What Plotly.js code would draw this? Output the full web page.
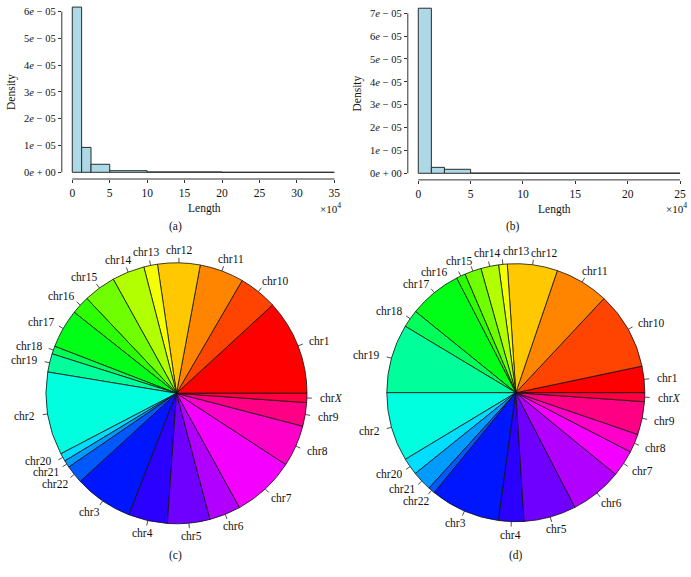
<!DOCTYPE html>
<html><head><meta charset="utf-8">
<script src="https://cdn.plot.ly/plotly-3.0.1.min.js"></script>
<style>html,body{margin:0;padding:0;background:#fff}#chart{width:691px;height:577px}</style>
</head><body><div id="chart"></div>
<script>
// ---------- DATA ----------
// Histogram (a): bin edges in units of 10^4, densities
const histA_edges = [0, 1.25, 2.5, 5, 10, 20, 35];
const histA_density = [6.17e-5, 0.93e-5, 0.30e-5, 0.06e-5, 0.015e-5, 0.001e-5];
// Histogram (b)
const histB_edges = [0, 1.25, 2.5, 5, 10, 25];
const histB_density = [7.22e-5, 0.26e-5, 0.175e-5, 0.01e-5, 0.008e-5];

const histA_xticks = [0, 5, 10, 15, 20, 25, 30, 35];
const histB_xticks = [0, 5, 10, 15, 20, 25];
const histA_yticks = [0, 1e-5, 2e-5, 3e-5, 4e-5, 5e-5, 6e-5];
const histA_yticktext = ['0<i>e</i> + 00','1<i>e</i> − 05','2<i>e</i> − 05','3<i>e</i> − 05','4<i>e</i> − 05','5<i>e</i> − 05','6<i>e</i> − 05'];
const histB_yticks = [0, 1e-5, 2e-5, 3e-5, 4e-5, 5e-5, 6e-5, 7e-5];
const histB_yticktext = ['0<i>e</i> + 00','1<i>e</i> − 05','2<i>e</i> − 05','3<i>e</i> − 05','4<i>e</i> − 05','5<i>e</i> − 05','6<i>e</i> − 05','7<i>e</i> − 05'];

// Pie charts: chromosome shares (degrees of the circle)
const chromosomes = ['chr1','chr10','chr11','chr12','chr13','chr14','chr15','chr16','chr17','chr18','chr19','chr2','chr20','chr21','chr22','chr3','chr4','chr5','chr6','chr7','chr8','chr9','chrX'];
const chromLabels = ['chr1','chr10','chr11','chr12','chr13','chr14','chr15','chr16','chr17','chr18','chr19','chr2','chr20','chr21','chr22','chr3','chr4','chr5','chr6','chr7','chr8','chr9','chr<i>X</i>'];
const pieC_values = [42.6,17.2,19.7,18.9,6.1,14.5,14.4,8.2,17.3,3.5,8.2,37.0,3.6,3.2,8.1,26.1,17.4,18.9,14.0,28.0,18.5,10.5,4.1];
const pieD_values = [11.9,35.0,24.3,22.6,3.9,8.0,7.5,4.1,23.7,8.0,31.0,31.1,7.7,8.9,3.1,31.5,11.4,23.6,23.4,12.0,8.4,14.9,4.0];

// ---------- LAYOUT HELPERS ----------
const W = 691, H = 577;
const FONT = 'Liberation Serif';
const TXT = '#111';
const px = p => p / W;
const py = p => 1 - p / H;

function hsvHex(h) { // s=v=1
  const i = Math.floor(h * 6), f = h * 6 - i, q = 1 - f, t = f;
  let r, g, b;
  switch (i % 6) {
    case 0: r=1; g=t; b=0; break;
    case 1: r=q; g=1; b=0; break;
    case 2: r=0; g=1; b=t; break;
    case 3: r=0; g=q; b=1; break;
    case 4: r=t; g=0; b=1; break;
    default: r=1; g=0; b=q;
  }
  const hx = v => Math.round(v * 255).toString(16).padStart(2, '0');
  return '#' + hx(r) + hx(g) + hx(b);
}
const rainbow = chromosomes.map((_, i) => hsvHex(i / chromosomes.length));

function centers(edges) { return edges.slice(0, -1).map((e, i) => (e + edges[i + 1]) / 2); }
function widths(edges) { return edges.slice(0, -1).map((e, i) => edges[i + 1] - e); }

const pieC = {cx: 176.5, cy: 393.3, R: 130.5};
const pieD = {cx: 515.8, cy: 392.7, R: 129};

const traces = [
  {type: 'bar', x: centers(histA_edges), y: histA_density, width: widths(histA_edges),
   xaxis: 'x', yaxis: 'y', marker: {color: '#add8e6', line: {color: '#2b2b2b', width: 1}}, hoverinfo: 'none'},
  {type: 'bar', x: centers(histB_edges), y: histB_density, width: widths(histB_edges),
   xaxis: 'x2', yaxis: 'y2', marker: {color: '#add8e6', line: {color: '#2b2b2b', width: 1}}, hoverinfo: 'none'},
];

function pieTrace(vals, P) {
  const total = vals.reduce((a, b) => a + b, 0);
  // Plotly: with counterclockwise direction the first slice ends at `rotation`; shift so it starts at 3 o'clock
  return {type: 'pie', values: vals, labels: chromosomes, sort: false, direction: 'counterclockwise',
    rotation: 90 - vals[0] / total * 360, textinfo: 'none', hoverinfo: 'none', showlegend: false,
    marker: {colors: rainbow, line: {color: '#111', width: 0.8}},
    domain: {x: [px(P.cx - P.R), px(P.cx + P.R)], y: [py(P.cy + P.R), py(P.cy - P.R)]}};
}
traces.push(pieTrace(pieC_values, pieC), pieTrace(pieD_values, pieD));

const annotations = [];
const shapes = [];

const LSIZE = 11.5;
const ctx = document.createElement('canvas').getContext('2d');
ctx.font = LSIZE + 'px "Liberation Serif"';

function pieLabels(vals, P) {
  const total = vals.reduce((a, b) => a + b, 0);
  let cum = 0;
  const mids = vals.map(v => { const m = (cum + v / 2) / total * 360; cum += v; return m; });
  const w = chromosomes.map(s => ctx.measureText(s).width);
  const phi = mids.slice();
  const rl = P.R * 1.1;
  const box = i => {
    const a = phi[i] * Math.PI / 180;
    return {x: P.cx + rl * Math.cos(a) + w[i] / 2 * Math.cos(a), y: P.cy - rl * Math.sin(a)};
  };
  for (let it = 0; it < 400; it++) {
    let moved = false;
    for (let i = 0; i < phi.length - 1; i++) {
      const j = i + 1, a = box(i), b = box(j);
      if (Math.abs(a.x - b.x) < (w[i] + w[j]) / 2 + 2 && Math.abs(a.y - b.y) < 11.5) {
        phi[i] -= 0.15; phi[j] += 0.15; moved = true;
      }
    }
    if (!moved) break;
  }
  mids.forEach((m, i) => {
    const a = m * Math.PI / 180;
    shapes.push({type: 'line', xref: 'paper', yref: 'paper',
      x0: px(P.cx + P.R * Math.cos(a)), y0: py(P.cy - P.R * Math.sin(a)),
      x1: px(P.cx + (P.R + 5) * Math.cos(a)), y1: py(P.cy - (P.R + 5) * Math.sin(a)),
      line: {color: '#222', width: 0.8}});
    const b = box(i);
    annotations.push({xref: 'paper', yref: 'paper', x: px(b.x), y: py(b.y), xanchor: 'center', yanchor: 'middle',
      text: chromLabels[i], showarrow: false, font: {family: FONT, size: LSIZE, color: TXT}});
  });
}
pieLabels(pieC_values, pieC);
pieLabels(pieD_values, pieD);

// axis lines (R style, spanning tick range only)
shapes.push({type: 'line', xref: 'x', yref: 'y domain', x0: 0, x1: 35, y0: 0, y1: 0, line: {color: '#333', width: 1}});
shapes.push({type: 'line', xref: 'x domain', yref: 'y', x0: 0, x1: 0, y0: 0, y1: 6e-5, line: {color: '#333', width: 1}});
shapes.push({type: 'line', xref: 'x2', yref: 'y2 domain', x0: 0, x1: 25, y0: 0, y1: 0, line: {color: '#333', width: 1}});
shapes.push({type: 'line', xref: 'x2 domain', yref: 'y2', x0: 0, x1: 0, y0: 0, y1: 7e-5, line: {color: '#333', width: 1}});

const txt = (x, y, text, extra) => Object.assign({xref: 'paper', yref: 'paper', x: px(x), y: py(y), text, showarrow: false,
  xanchor: 'center', yanchor: 'middle', font: {family: FONT, size: 11.5, color: TXT}}, extra || {});
annotations.push(
  txt(12, 92, 'Density', {textangle: -90}),
  txt(357.5, 94, 'Density', {textangle: -90}),
  txt(204.7, 208.5, 'Length'),
  txt(554.3, 209.5, 'Length'),
  txt(330, 207.5, '×10<sup>4</sup>', {font: {family: FONT, size: 11, color: TXT}}),
  txt(676, 208, '×10<sup>4</sup>', {font: {family: FONT, size: 11, color: TXT}}),
  txt(175, 226, '(a)'),
  txt(513, 226, '(b)'),
  txt(176, 555, '(c)'),
  txt(516, 555, '(d)')
);

const xFont = {family: FONT, size: 11.5, color: TXT};
const yFont = {family: FONT, size: 10.5, color: TXT};
const base = {showgrid: false, zeroline: false, showline: false, ticks: 'outside', ticklen: 3, tickcolor: '#333', fixedrange: true};
const layout = {
  width: W, height: H, margin: {l: 0, r: 0, t: 0, b: 0}, paper_bgcolor: '#fff', plot_bgcolor: 'rgba(0,0,0,0)',
  showlegend: false, bargap: 0,
  xaxis: Object.assign({}, base, {tickfont: xFont, domain: [px(61.8), px(344.8)], range: [-1.4, 36.4], tickvals: histA_xticks, anchor: 'y'}),
  yaxis: Object.assign({}, base, {tickfont: yFont, domain: [py(179.0), py(0.4)], range: [-0.25e-5, 6.42e-5], tickvals: histA_yticks, ticktext: histA_yticktext, anchor: 'x'}),
  xaxis2: Object.assign({}, base, {tickfont: xFont, domain: [px(407.8), px(690.5)], range: [-1, 26], tickvals: histB_xticks, anchor: 'y2'}),
  yaxis2: Object.assign({}, base, {tickfont: yFont, domain: [py(179.9), py(1.6)], range: [-0.289e-5, 7.51e-5], tickvals: histB_yticks, ticktext: histB_yticktext, anchor: 'x2'}),
  shapes, annotations
};
Plotly.newPlot('chart', traces, layout, {staticPlot: true, displayModeBar: false});
</script></body></html>
